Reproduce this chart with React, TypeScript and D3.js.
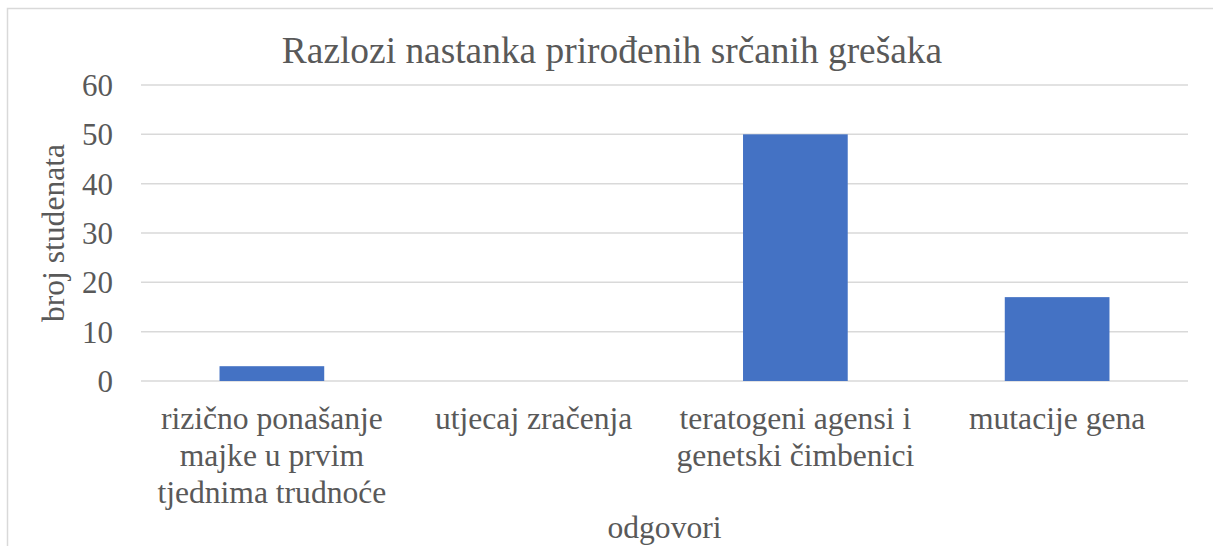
import React, { useRef, useEffect } from "react";
import * as d3 from "d3";

const title = "Razlozi nastanka prirođenih srčanih grešaka";
const yTitle = "broj studenata";
const xTitle = "odgovori";

const categories = [
  "rizično ponašanje majke u prvim tjednima trudnoće",
  "utjecaj zračenja",
  "teratogeni agensi i genetski čimbenici",
  "mutacije gena",
];
const values = [3, 0, 50, 17];
const yTicks = [0, 10, 20, 30, 40, 50, 60];

const FONT = "'Liberation Serif', 'Times New Roman', serif";
const TEXT = "#595959";
const GRID = "#d9d9d9";
const BAR = "#4472c4";
const LABEL_PX = 31.6;

// split a label into lines that fit in maxWidth
function wrap(label: string, fontPx: number, maxWidth: number): string[] {
  const ctx = document.createElement("canvas").getContext("2d");
  if (!ctx) return [label];
  ctx.font = `${fontPx}px ${FONT}`;
  const words = label.split(" ");
  const lines: string[] = [];
  let cur = "";
  for (const w of words) {
    const next = cur ? cur + " " + w : w;
    if (cur && ctx.measureText(next).width > maxWidth) {
      lines.push(cur);
      cur = w;
    } else {
      cur = next;
    }
  }
  if (cur) lines.push(cur);
  return lines;
}

const App = () => {
  const svgRef = useRef<SVGSVGElement>(null);

  useEffect(() => {
    const svg = d3.select(svgRef.current);
    svg.selectAll("*").remove();

    const width = 1213;
    const height = 546;
    const margin = { top: 85, right: 25, bottom: 165, left: 141 };
    const innerWidth = width - margin.left - margin.right;
    const innerHeight = height - margin.top - margin.bottom;

    // chart frame (runs off the right and bottom edges)
    svg
      .append("rect")
      .attr("x", 7.5)
      .attr("y", 8.5)
      .attr("width", 1240)
      .attr("height", 600)
      .attr("fill", "#fff")
      .attr("stroke", GRID)
      .attr("stroke-width", 1.5);

    const x = d3
      .scaleBand()
      .domain(categories)
      .range([0, innerWidth])
      .paddingInner(0.6)
      .paddingOuter(0.3);

    const y = d3.scaleLinear().domain([0, 60]).range([innerHeight, 0]);

    const g = svg
      .append("g")
      .attr("transform", `translate(${margin.left},${margin.top})`);

    // gridlines
    g.append("g")
      .selectAll("line")
      .data(yTicks)
      .join("line")
      .attr("x1", 0)
      .attr("x2", innerWidth)
      .attr("y1", (d) => y(d))
      .attr("y2", (d) => y(d))
      .attr("stroke", GRID)
      .attr("stroke-width", 1.5);

    // y tick labels
    g.append("g")
      .selectAll("text")
      .data(yTicks)
      .join("text")
      .attr("x", -28)
      .attr("y", (d) => y(d) + 11)
      .attr("text-anchor", "end")
      .attr("font-family", FONT)
      .attr("font-size", 31)
      .attr("fill", TEXT)
      .text((d) => d);

    // bars
    g.append("g")
      .selectAll("rect")
      .data(values)
      .join("rect")
      .attr("x", (d, i) => x(categories[i]) as number)
      .attr("y", (d) => y(d))
      .attr("width", x.bandwidth())
      .attr("height", (d) => innerHeight - y(d))
      .attr("fill", BAR);

    // category labels
    const labels = g
      .append("g")
      .selectAll("text")
      .data(categories)
      .join("text")
      .attr("x", (d) => (x(d) as number) + x.bandwidth() / 2)
      .attr("y", innerHeight + 48)
      .attr("text-anchor", "middle")
      .attr("font-family", FONT)
      .attr("font-size", LABEL_PX)
      .attr("fill", TEXT);

    labels.each(function (d) {
      const el = d3.select(this);
      const cx = (x(d) as number) + x.bandwidth() / 2;
      wrap(d, LABEL_PX, x.step() * 0.95).forEach((line, i) => {
        el.append("tspan")
          .attr("x", cx)
          .attr("dy", i === 0 ? 0 : 37)
          .text(line);
      });
    });

    // axis titles
    g.append("text")
      .attr("x", innerWidth / 2)
      .attr("y", innerHeight + 157)
      .attr("text-anchor", "middle")
      .attr("font-family", FONT)
      .attr("font-size", LABEL_PX)
      .attr("fill", TEXT)
      .text(xTitle);

    svg
      .append("text")
      .attr(
        "transform",
        `translate(64,${margin.top + innerHeight / 2}) rotate(-90)`
      )
      .attr("text-anchor", "middle")
      .attr("font-family", FONT)
      .attr("font-size", LABEL_PX)
      .attr("fill", TEXT)
      .text(yTitle);

    // chart title
    svg
      .append("text")
      .attr("x", 612)
      .attr("y", 63)
      .attr("text-anchor", "middle")
      .attr("font-family", FONT)
      .attr("font-size", 37.4)
      .attr("fill", TEXT)
      .text(title);
  }, []);

  return (
    <svg
      ref={svgRef}
      width={1213}
      height={546}
      style={{ position: "absolute", left: 0, top: 0, background: "#fff" }}
    ></svg>
  );
};

export default App;
